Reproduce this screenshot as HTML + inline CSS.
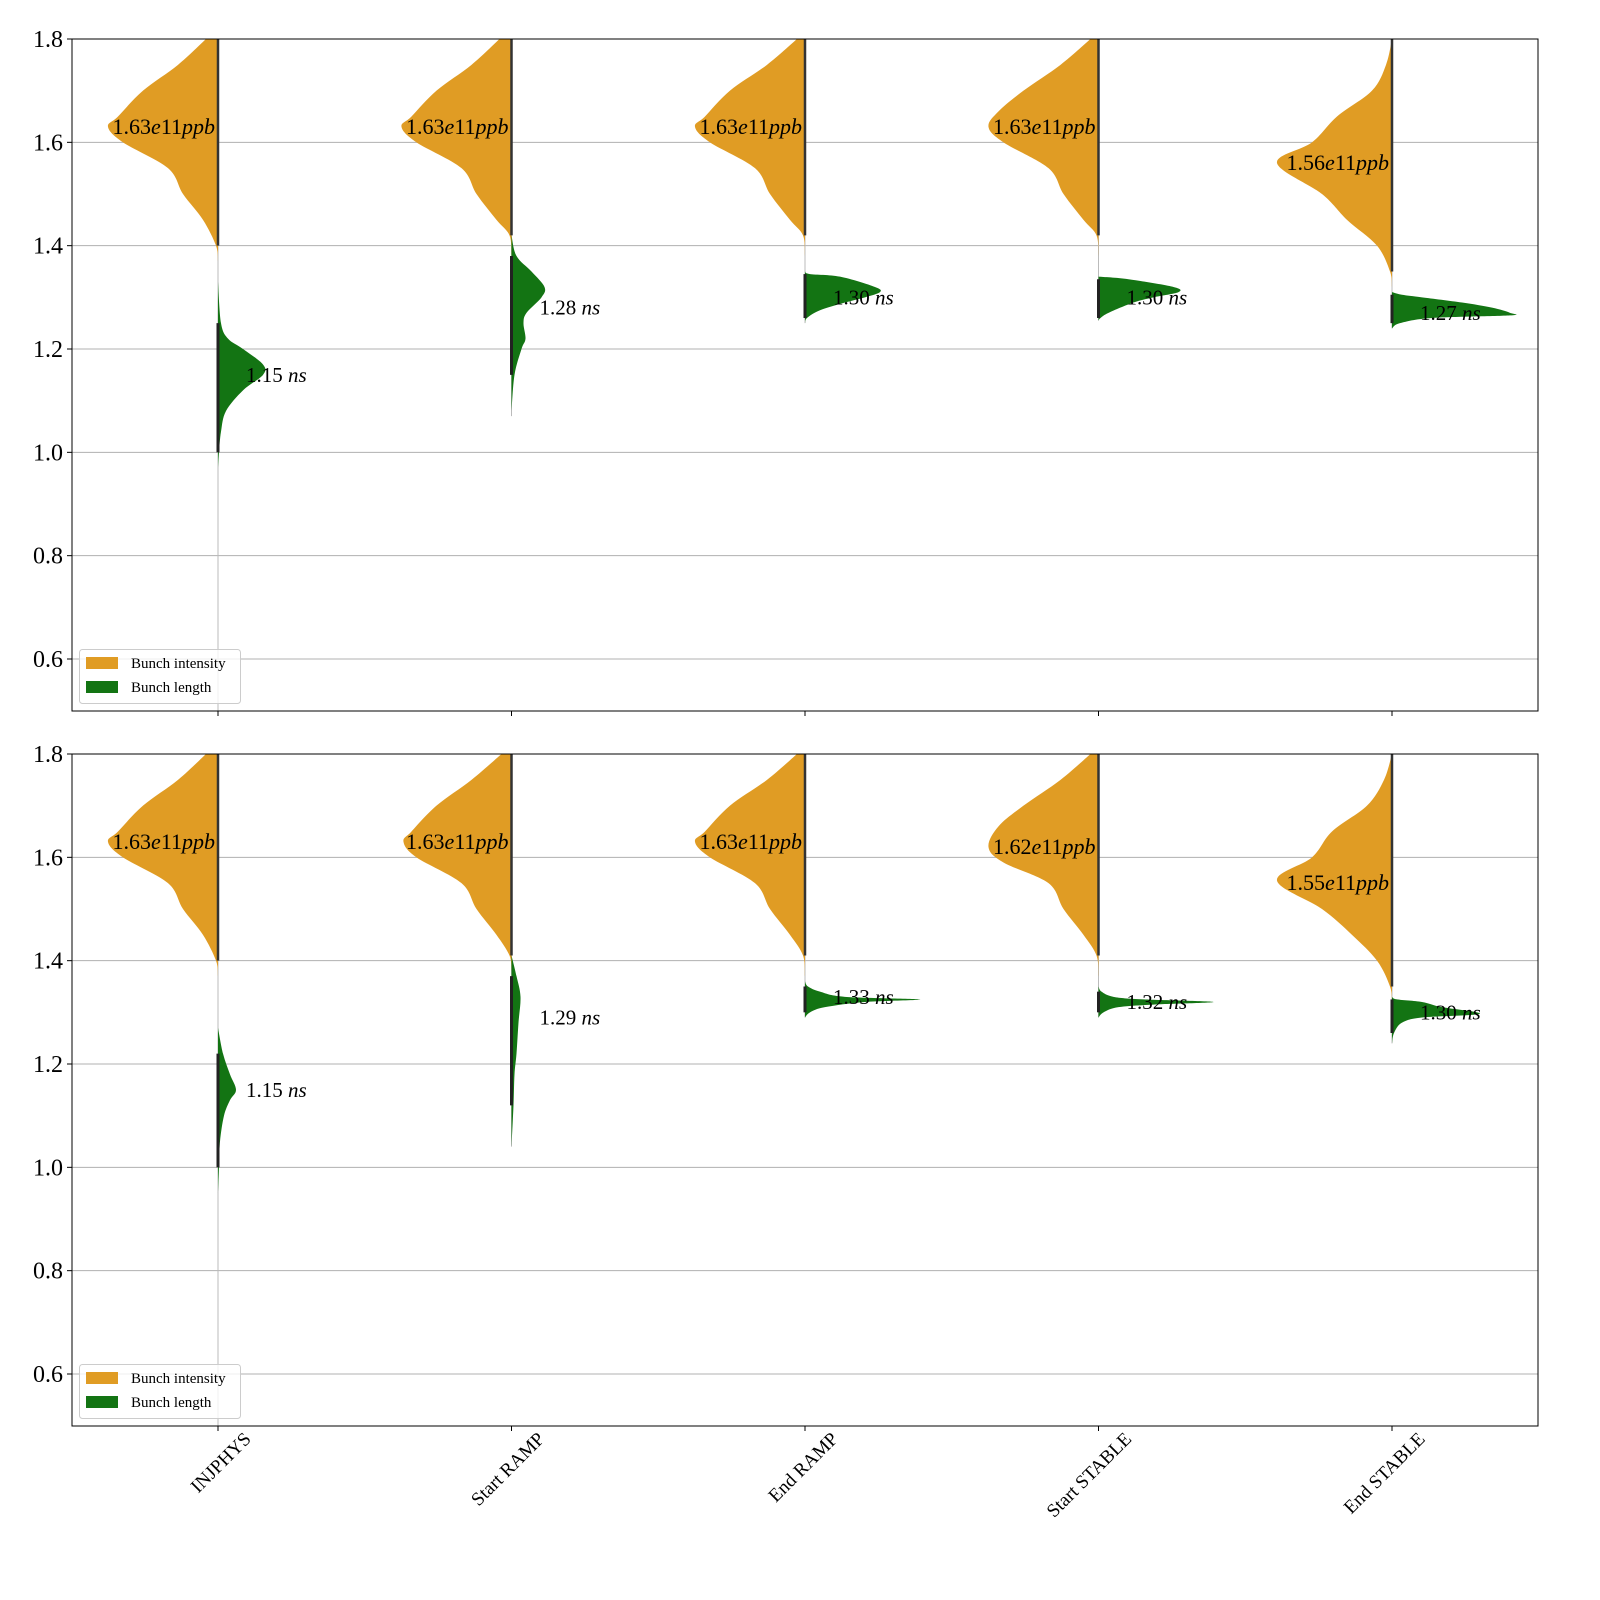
<!DOCTYPE html>
<html><head><meta charset="utf-8"><style>
body{margin:0;background:#fff}
svg{display:block;font-family:"Liberation Serif",serif}
</style></head><body>
<svg id="chart" width="1600" height="1600" viewBox="0 0 1600 1600" xmlns="http://www.w3.org/2000/svg"></svg>
<script>
const categories=["INJPHYS","Start RAMP","End RAMP","Start STABLE","End STABLE"];
const yTicks=[0.6,0.8,1.0,1.2,1.4,1.6,1.8];
const intTop=[
 [[1.8,12],[1.75,40],[1.7,75],[1.65,100],[1.63,110],[1.6,95],[1.55,50],[1.5,35],[1.45,15],[1.4,2],[1.37,0]],
 [[1.8,12],[1.75,40],[1.7,75],[1.65,100],[1.63,110],[1.6,95],[1.55,50],[1.5,35],[1.45,15],[1.42,2],[1.38,0]],
 [[1.8,8],[1.75,38],[1.7,75],[1.65,100],[1.63,110],[1.6,95],[1.55,50],[1.5,35],[1.45,15],[1.42,2],[1.38,0]],
 [[1.8,8],[1.75,38],[1.7,75],[1.66,100],[1.63,110],[1.6,95],[1.55,50],[1.5,35],[1.45,15],[1.42,2],[1.38,0]],
 [[1.8,0],[1.75,6],[1.7,20],[1.65,55],[1.6,80],[1.56,115],[1.5,70],[1.45,45],[1.4,15],[1.35,2],[1.32,0]]
];
const lenTop=[
 [[1.33,0],[1.25,3],[1.22,10],[1.2,25],[1.17,45],[1.15,45],[1.12,25],[1.08,8],[1.04,3],[1.0,1],[0.97,0]],
 [[1.42,0],[1.38,5],[1.35,20],[1.32,33],[1.30,30],[1.27,15],[1.25,12],[1.22,14],[1.2,10],[1.15,3],[1.08,0]],
 [[1.35,0],[1.345,5],[1.34,35],[1.32,70],[1.31,75],[1.30,60],[1.29,40],[1.275,15],[1.26,2],[1.25,0]],
 [[1.34,0],[1.335,30],[1.32,75],[1.31,80],[1.30,55],[1.29,35],[1.27,10],[1.26,2],[1.255,0]],
 [[1.31,0],[1.305,10],[1.30,30],[1.29,70],[1.28,100],[1.27,118],[1.265,118],[1.26,40],[1.25,8],[1.24,0]]
];
const intBot=[
 [[1.8,12],[1.75,40],[1.7,75],[1.65,100],[1.63,110],[1.6,95],[1.55,50],[1.5,35],[1.45,15],[1.4,2],[1.37,0]],
 [[1.8,10],[1.75,40],[1.7,75],[1.65,100],[1.63,108],[1.6,95],[1.55,50],[1.5,35],[1.45,15],[1.41,2],[1.38,0]],
 [[1.8,8],[1.75,38],[1.7,75],[1.65,100],[1.63,110],[1.6,95],[1.55,50],[1.5,35],[1.45,15],[1.41,2],[1.37,0]],
 [[1.8,8],[1.75,38],[1.7,75],[1.66,100],[1.62,110],[1.59,95],[1.55,50],[1.5,35],[1.45,15],[1.41,2],[1.37,0]],
 [[1.8,0],[1.75,8],[1.7,25],[1.65,60],[1.6,80],[1.555,115],[1.5,70],[1.45,40],[1.4,15],[1.35,2],[1.32,0]]
];
const lenBot=[
 [[1.27,0],[1.22,5],[1.18,12],[1.15,18],[1.13,12],[1.1,6],[1.05,2],[1.0,1],[0.95,0]],
 [[1.41,0],[1.37,5],[1.33,9],[1.28,7],[1.22,5],[1.18,3],[1.12,2],[1.04,0]],
 [[1.36,0],[1.35,3],[1.34,15],[1.33,40],[1.325,115],[1.32,60],[1.31,20],[1.30,5],[1.29,0]],
 [[1.35,0],[1.34,3],[1.33,15],[1.325,45],[1.32,115],[1.315,55],[1.31,20],[1.30,5],[1.29,0]],
 [[1.33,0],[1.325,5],[1.32,30],[1.31,50],[1.30,85],[1.295,80],[1.29,30],[1.28,10],[1.26,2],[1.24,0]]
];
const intMeansTop=[1.63,1.63,1.63,1.63,1.56], lenMeansTop=[1.15,1.28,1.30,1.30,1.27];
const intMeansBot=[1.63,1.63,1.63,1.62,1.55], lenMeansBot=[1.15,1.29,1.33,1.32,1.30];
const rangeTop=[[0.5,1.8],[1.07,1.8],[1.25,1.8],[1.255,1.8],[1.24,1.8]];
const rangeBot=[[0.5,1.8],[1.04,1.8],[1.29,1.8],[1.29,1.8],[1.24,1.8]];

const NS="http://www.w3.org/2000/svg";
const svg=document.getElementById('chart');
function mk(t,a,p){const e=document.createElementNS(NS,t);for(const k in a)e.setAttribute(k,a[k]);(p||svg).appendChild(e);return e;}
const X0=72,X1=1538;
const xPos=i=>218+i*293.5;
function smooth(pts){let d=`M${pts[0][0]},${pts[0][1]}`;for(let i=0;i<pts.length-1;i++){const p0=pts[Math.max(0,i-1)],p1=pts[i],p2=pts[i+1],p3=pts[Math.min(pts.length-1,i+2)];
 const c1=[p1[0]+(p2[0]-p0[0])/6,p1[1]+(p2[1]-p0[1])/6],c2=[p2[0]-(p3[0]-p1[0])/6,p2[1]-(p3[1]-p1[1])/6];
 d+=`C${c1[0]},${c1[1]} ${c2[0]},${c2[1]} ${p2[0]},${p2[1]}`;}return d;}
function panel(pi,top,ints,lens,im,lm,ranges){
 const bot=top+672;
 const yS=v=>top+(1.8-v)*(620/1.2);
 const g=mk('g',{});
 yTicks.forEach(t=>{const y=yS(t);
  const gl=mk('line',{x1:X0,x2:X1,y1:y,y2:y,stroke:'#b0b0b0','stroke-width':1},g);
  mk('line',{x1:X0-5,x2:X0,y1:y,y2:y,stroke:'#000'},g);
  const tx=mk('text',{x:X0-9,y:y+8,'text-anchor':'end','font-size':24},g);tx.textContent=t.toFixed(1);
  });
 categories.forEach((c,i)=>{const cx=xPos(i);
  mk('line',{x1:cx,x2:cx,y1:bot,y2:bot+5,stroke:'#000'},g);
  const r=ranges[i];mk('line',{x1:cx,x2:cx,y1:yS(r[1]),y2:Math.min(bot,yS(r[0])),stroke:'#bbb','stroke-width':1},g);
  const op=smooth(ints[i].map(p=>[cx-p[1],yS(p[0])]))+`L${cx},${yS(ints[i][ints[i].length-1][0])}L${cx},${yS(ints[i][0][0])}Z`;
  const o=mk('path',{d:op,fill:'#e09c24'},g);
  const gp=smooth(lens[i].map(p=>[cx+p[1],yS(p[0])]))+`L${cx},${yS(lens[i][lens[i].length-1][0])}L${cx},${yS(lens[i][0][0])}Z`;
  const gr=mk('path',{d:gp,fill:'#137413'},g);
  const ia=ints[i], la=lens[i];
  mk('line',{x1:cx,x2:cx,y1:yS(1.8),y2:yS(ia[ia.length-2][0]),stroke:'#333','stroke-width':2.5},g);
  mk('line',{x1:cx,x2:cx,y1:yS(la[1][0]),y2:yS(la[la.length-2][0]),stroke:'#222','stroke-width':3},g);
  const t1=mk('text',{x:cx-3,y:yS(im[i])+7,'text-anchor':'end','font-size':22},g);
  t1.innerHTML=im[i].toFixed(2)+'<tspan font-style="italic">e</tspan>11<tspan font-style="italic">ppb</tspan>';
  
  const t2=mk('text',{x:cx+28,y:yS(lm[i])+7,'font-size':21},g);
  t2.innerHTML=lm[i].toFixed(2)+' <tspan font-style="italic">ns</tspan>';
  
 });
 mk('rect',{x:X0,y:top,width:X1-X0,height:672,fill:'none',stroke:'#000','stroke-width':1},g);
 const lg=mk('g',{},g);
 mk('rect',{x:79.5,y:top+610.5,width:161,height:54,rx:3,fill:'#fff','fill-opacity':0.8,stroke:'#ccc'},lg);
 mk('rect',{x:86,y:top+618,width:32,height:12,fill:'#e09c24'},lg);
 mk('rect',{x:86,y:top+642,width:32,height:12,fill:'#137413'},lg);
 let a=mk('text',{x:131,y:top+629,'font-size':15},lg);a.textContent='Bunch intensity';
 
 a=mk('text',{x:131,y:top+653,'font-size':15},lg);a.textContent='Bunch length';
 
}
panel(0,39,intTop,lenTop,intMeansTop,lenMeansTop,rangeTop);
panel(1,754,intBot,lenBot,intMeansBot,lenMeansBot,rangeBot);
categories.forEach((c,i)=>{const cx=xPos(i)+34,y=1440;
 const t=mk('text',{x:cx,y:y,'text-anchor':'end','font-size':19,transform:`rotate(-45 ${cx} ${y})`});
 t.textContent=c;
 
 });
</script>
</body></html>
